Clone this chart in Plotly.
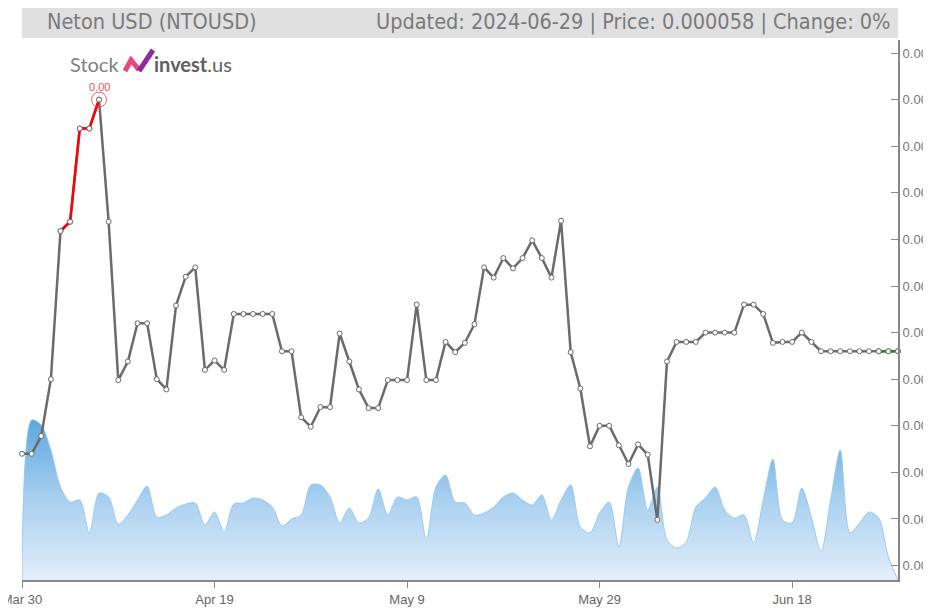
import datetime as dt
import plotly.graph_objects as go

# ---------------- data ----------------
start_date = dt.date(2024, 3, 30)
price_e6 = [47, 47, 48.9, 55, 70.9, 71.9, 81.9, 81.9, 85, 71.9,
            54.9, 56.9, 61, 61, 55, 53.9, 62.9, 66, 67, 56,
            57, 56, 62, 62, 62, 62, 62, 58, 58, 50.9,
            49.9, 52, 52, 59.9, 56.9, 53.9, 51.9, 51.9, 54.9, 54.9,
            54.9, 63, 54.9, 54.9, 59, 57.9, 58.9, 60.9, 67, 65.9,
            68, 66.9, 68, 69.9, 68, 65.9, 72, 57.9, 54, 47.8,
            50, 50, 47.9, 45.9, 48, 46.9, 39.9, 56.9, 59, 59,
            59, 60, 60, 60, 60, 63, 63, 62, 58.9, 59,
            59, 60, 59, 58, 58, 58, 58, 58, 58, 58,
            58, 58]
volume = [0, 160, 155, 130, 93, 78, 80, 47, 87, 83,
          56, 65, 80, 94, 63, 65, 72, 76, 77, 55,
          68, 48, 76, 77, 82, 80, 73, 54, 61, 65,
          95, 95, 83, 57, 72, 57, 62, 91, 65, 83,
          80, 83, 40, 93, 105, 78, 77, 65, 67, 73,
          83, 87, 80, 75, 85, 60, 80, 95, 53, 47,
          67, 78, 33, 93, 112, 70, 93, 40, 32, 38,
          73, 82, 93, 70, 62, 65, 37, 80, 121, 60,
          57, 92, 63, 28, 80, 130, 47, 57, 68, 62,
          23, 0]
dates = [start_date + dt.timedelta(days=i) for i in range(len(price_e6))]
prices = [p * 1e-6 for p in price_e6]

tick_dates = [dt.date(2024, 3, 30), dt.date(2024, 4, 19), dt.date(2024, 5, 9),
              dt.date(2024, 5, 29), dt.date(2024, 6, 18)]
tick_labels = ["Mar 30", "Apr 19", "May 9", "May 29", "Jun 18"]

red_idx = (4, 9)      # rising segment highlighted red
green_idx = (89, 92)  # last segment green
peak_idx = 8

title_left = "Neton USD (NTOUSD)"
title_right = "Updated: 2024-06-29 | Price: 0.000058 | Change: 0%"

# ---------------- figure ----------------
# page body has an 8px margin, so the figure is 8px smaller and everything is offset
OFF = 8
W, H = 931 - OFF, 608 - OFF
L, R, T, B = 22 - OFF, 33, 40 - OFF, 28
pw, ph = W - L - R, H - T - B
X0, Y1 = 22, 580  # plot-area left / bottom in screen pixels


def px(x):
    return (x - X0) / pw


def py(y):
    return (Y1 - y) / ph


fig = go.Figure()

# volume (bottom layer, axis y)
fig.add_trace(go.Scatter(
    x=dates, y=volume, yaxis="y", mode="lines",
    line=dict(color="#9ccbee", width=1, shape="spline", smoothing=0.8),
    fill="tozeroy",
    fillgradient=dict(type="vertical", start=0, stop=160,
                      colorscale=[[0, "#e4eef9"], [0.5, "#a9d0f0"], [1, "#5ea6df"]]),
    hoverinfo="skip", showlegend=False))

mk = dict(size=5, color="white", line=dict(color="#6b6b6b", width=1))

fig.add_trace(go.Scatter(
    x=dates, y=prices, yaxis="y2", mode="lines+markers", cliponaxis=False,
    line=dict(color="#6b6b6b", width=2.5), marker=mk, showlegend=False))

fig.add_trace(go.Scatter(
    x=dates[red_idx[0]:red_idx[1]], y=prices[red_idx[0]:red_idx[1]], yaxis="y2",
    mode="lines+markers", cliponaxis=False,
    line=dict(color="#ff0000", width=2.5), marker=mk, showlegend=False))

fig.add_trace(go.Scatter(
    x=dates[green_idx[0]:green_idx[1]], y=prices[green_idx[0]:green_idx[1]], yaxis="y2",
    mode="lines+markers", cliponaxis=False,
    line=dict(color="#1a8a1a", width=2.5), marker=mk, showlegend=False))

fig.add_trace(go.Scatter(
    x=[dates[peak_idx]], y=[prices[peak_idx]], yaxis="y2", mode="markers", cliponaxis=False,
    marker=dict(size=15, color="rgba(0,0,0,0)", line=dict(color="rgba(240,60,60,0.8)", width=1)),
    showlegend=False))

fig.add_annotation(x=dates[peak_idx], y=prices[peak_idx], yref="y2", text="0.00",
                   showarrow=False, yshift=13, font=dict(size=11, color="#f05050", family="Liberation Sans"))

# title bar
fig.add_shape(type="rect", xref="paper", yref="paper",
              x0=0, x1=1, y0=py(38), y1=py(8), fillcolor="#e0e0e0", line=dict(width=0), layer="below")
fig.add_annotation(xref="paper", yref="paper", x=px(45), y=py(22), xanchor="left", yanchor="middle",
                   text=title_left, showarrow=False,
                   font=dict(size=21.5, color="#7a7a7a", family="DejaVu Sans Condensed"))
fig.add_annotation(xref="paper", yref="paper", x=px(893), y=py(22), xanchor="right", yanchor="middle",
                   text=title_right, showarrow=False,
                   font=dict(size=21.5, color="#7a7a7a", family="DejaVu Sans Condensed"))

# logo
fig.add_annotation(xref="paper", yref="paper", x=px(121), y=py(64), xanchor="right", yanchor="middle",
                   text="Stock", showarrow=False, font=dict(size=20, color="#808080", family="Lato"))
fig.add_annotation(xref="paper", yref="paper", x=px(152), y=py(64), xanchor="left", yanchor="middle",
                   text="<b>invest</b>.us", showarrow=False, font=dict(size=20, color="#606060", family="Lato"))
fig.add_shape(type="path", xref="paper", yref="paper",
              path=f"M {px(125)} {py(71)} L {px(131)} {py(60)} L {px(139)} {py(70)}",
              line=dict(color="#e8467c", width=5))
fig.add_shape(type="path", xref="paper", yref="paper",
              path=f"M {px(139)} {py(71)} L {px(153)} {py(50)}",
              line=dict(color="#8e2aa8", width=5))

fig.update_layout(
    width=W, height=H,
    margin=dict(l=L, r=R, t=T, b=B, autoexpand=False),
    paper_bgcolor="white", plot_bgcolor="white",
    xaxis=dict(type="date", range=[dates[0], dates[-1]],
               tickvals=tick_dates, ticktext=tick_labels,
               showgrid=False, zeroline=False, automargin=False,
               ticklabeloverflow="allow",
               showline=True, linecolor="#888", linewidth=2,
               ticks="outside", ticklen=6, tickcolor="#888",
               tickfont=dict(size=13, color="#666", family="Liberation Sans")),
    yaxis=dict(range=[0, ph], visible=False, fixedrange=True, automargin=False),
    yaxis2=dict(overlaying="y", side="right", range=[33.45e-6, 91.4e-6], dtick=5e-6, tick0=0,
                tickformat=".6f", showgrid=False, zeroline=False, automargin=False,
                ticklabeloverflow="allow",
                showline=True, linecolor="#888", linewidth=2,
                ticks="inside", ticklen=7, tickcolor="#888",
                tickfont=dict(size=13, color="#777", family="Liberation Sans")),
)

fig.write_html("out.html")
